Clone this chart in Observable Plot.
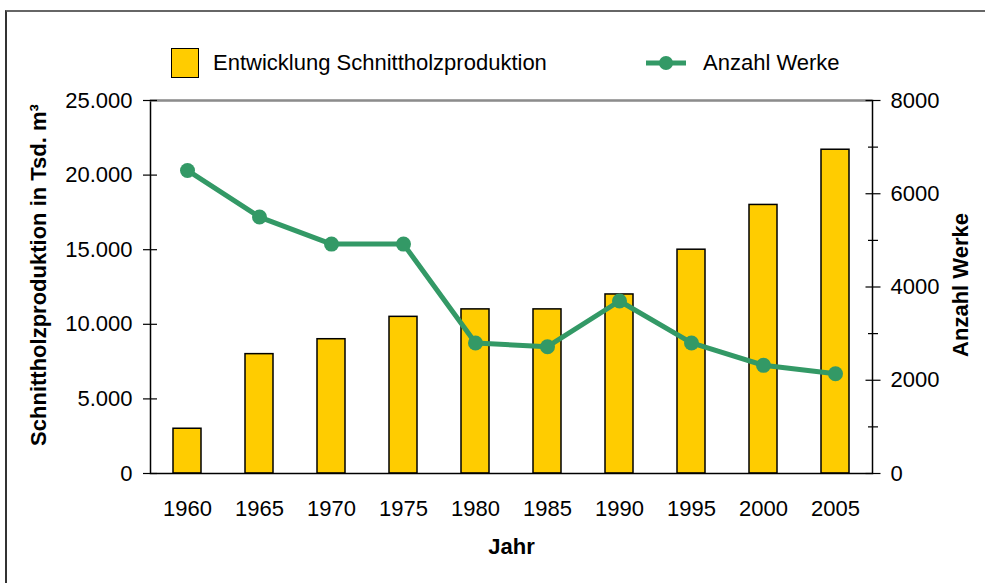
<!DOCTYPE html>
<html><head><meta charset="utf-8">
<script src="https://cdn.jsdelivr.net/npm/d3@7"></script>
<script src="https://cdn.jsdelivr.net/npm/@observablehq/plot@0.6"></script>
<style>
html,body{margin:0;padding:0;background:#fff;overflow:hidden;}
body{width:985px;height:583px;position:relative;font-family:"Liberation Sans",Arial,sans-serif;color:#000;}
#border{position:absolute;left:5px;top:10px;width:1000px;height:600px;border-top:2px solid #666;border-left:2px solid #333;pointer-events:none;}
#legend{position:relative;height:84px;font-size:22px;}
#legend .sw{position:absolute;left:171px;top:48px;width:26px;height:28px;background:#ffcc00;border:1.5px solid #000;}
#legend .t{position:absolute;top:51px;line-height:24px;white-space:nowrap;}
#legend svg{position:absolute;left:640px;top:53px;}
#chart svg{display:block;}
</style>
</head><body>
<div id="border"></div>
<div id="legend">
  <div class="sw"></div>
  <div class="t" style="left:213px">Entwicklung Schnittholzproduktion</div>
  <svg width="56" height="20"><line x1="6" y1="10" x2="46" y2="10" stroke="#339966" stroke-width="5"/><circle cx="26" cy="10" r="7" fill="#339966"/></svg>
  <div class="t" style="left:703px">Anzahl Werke</div>
</div>
<div id="chart"></div>
<script>
const years = [1960, 1965, 1970, 1975, 1980, 1985, 1990, 1995, 2000, 2005];
const production = [3000, 8000, 9000, 10500, 11000, 11000, 12000, 15000, 18000, 21700];
const plants = [6500, 5500, 4920, 4920, 2800, 2720, 3700, 2800, 2320, 2140];
const leftTicks = [0, 5000, 10000, 15000, 20000, 25000];
const rightTicks = [0, 2000, 4000, 6000, 8000];
const rightMinorTicks = [1000, 3000, 5000, 7000];
const leftMax = 25000, rightMax = 8000;
const k = leftMax / rightMax;

const data = years.map((y, i) => ({year: y, production: production[i], plants: plants[i]}));
const de = d3.formatLocale({decimal: ",", thousands: ".", grouping: [3], currency: ["", "€"]}).format(",d");

const chart = Plot.plot({
  width: 985, height: 499,
  marginLeft: 150, marginRight: 113, marginTop: 16, marginBottom: 110,
  style: {fontSize: "22px", fontFamily: "Liberation Sans, Arial, sans-serif", color: "#000", background: "transparent", overflow: "visible"},
  x: {type: "band", domain: years, paddingInner: 0.61, paddingOuter: 0.305},
  y: {domain: [0, leftMax]},
  marks: [
    Plot.barY(data, {x: "year", y: "production", fill: "#ffcc00", stroke: "#000", strokeWidth: 1.5}),
    Plot.frame({stroke: "#000", strokeWidth: 1.5}),
    Plot.ruleY([leftMax], {stroke: "#8c8c8c", strokeWidth: 2}),
    Plot.axisX({tickSize: 0, tickPadding: 27, tickFormat: d => String(d), label: null}),
    Plot.axisY({anchor: "left", ticks: leftTicks, tickSize: 0, tickPadding: 18, tickFormat: de, label: null}),
    Plot.axisY({anchor: "left", ticks: leftTicks, tickSize: 14, dx: 7, tickFormat: () => "", label: null, strokeWidth: 1.2}),
    Plot.axisY({anchor: "right", ticks: rightTicks.map(v => v * k), tickSize: 0, tickPadding: 18, tickFormat: d => String(Math.round(d / k)), label: null}),
    Plot.axisY({anchor: "right", ticks: rightTicks.map(v => v * k), tickSize: 15, dx: -7.5, tickFormat: () => "", label: null, strokeWidth: 1.2}),
    Plot.axisY({anchor: "right", ticks: rightMinorTicks.map(v => v * k), tickSize: 10, dx: -5, tickFormat: () => "", label: null, strokeWidth: 1.2}),
    Plot.line(data, {x: "year", y: d => d.plants * k, stroke: "#339966", strokeWidth: 5}),
    Plot.dot(data, {x: "year", y: d => d.plants * k, r: 7.5, fill: "#339966"}),
    Plot.text(["Schnittholzproduktion in Tsd. m³"], {text: d => d, frameAnchor: "left", textAnchor: "middle", lineAnchor: "middle", rotate: -90, dx: -112, dy: -12, fontWeight: "bold", fontSize: 22}),
    Plot.text(["Anzahl Werke"], {text: d => d, frameAnchor: "right", textAnchor: "middle", lineAnchor: "middle", rotate: -90, dx: 88, dy: -2, fontWeight: "bold", fontSize: 22}),
    Plot.text(["Jahr"], {text: d => d, frameAnchor: "bottom", textAnchor: "middle", lineAnchor: "middle", dy: 73, fontWeight: "bold", fontSize: 22})
  ]
});
document.getElementById("chart").appendChild(chart);
</script>
</body></html>
